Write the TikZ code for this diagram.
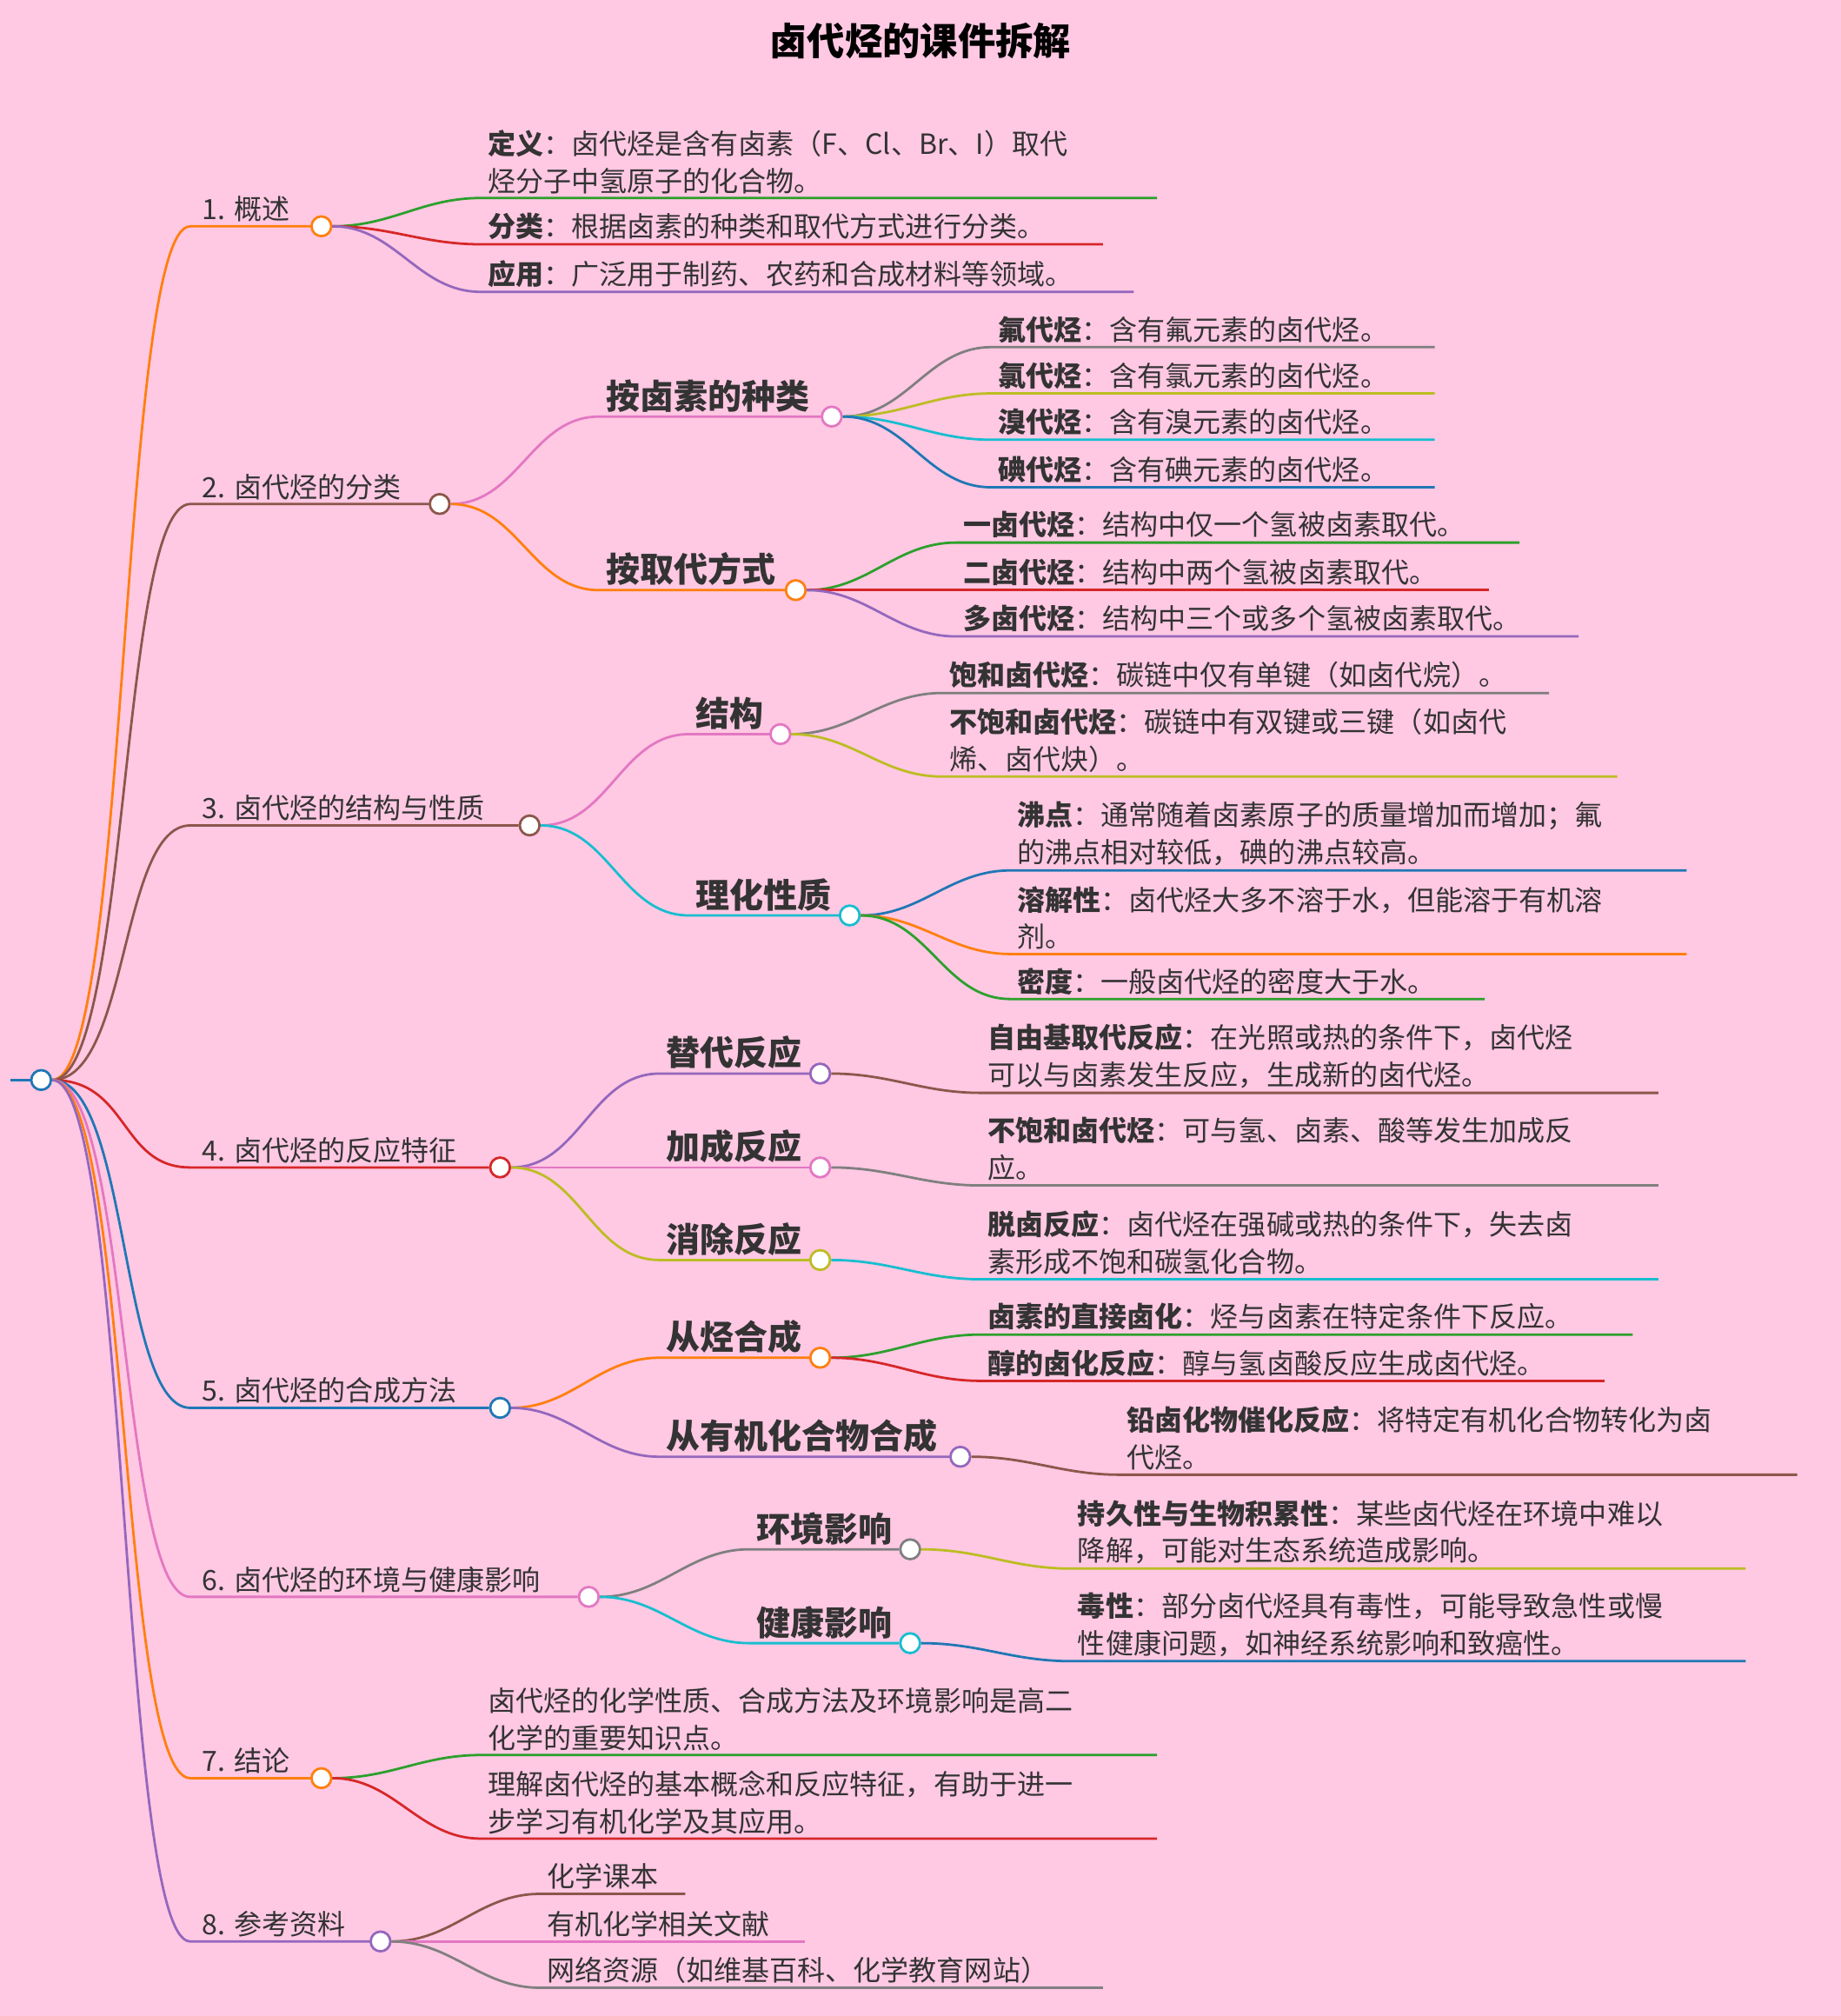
\documentclass[tikz,border=0pt]{standalone}
\usepackage{fontspec}
\setmainfont{Noto Sans CJK SC}
\definecolor{bgpink}{HTML}{FFC8E3}
\definecolor{txt}{HTML}{333333}
\definecolor{corange}{HTML}{FF7F0E}
\definecolor{cbrown}{HTML}{8C564B}
\definecolor{cred}{HTML}{D62728}
\definecolor{cblue}{HTML}{1F77B4}
\definecolor{cpink}{HTML}{E377C2}
\definecolor{cgray}{HTML}{7F7F7F}
\definecolor{colive}{HTML}{BCBD22}
\definecolor{ccyan}{HTML}{17BECF}
\definecolor{cgreen}{HTML}{2CA02C}
\definecolor{cpurple}{HTML}{9467BD}

\tikzset{
  dot/.style={circle,draw,fill=white,line width=1.6pt,minimum size=0.46cm,inner sep=0pt},
  wire/.style={line width=1.6pt},
  lbl/.style={anchor=south west,inner sep=1pt,text=txt,align=left,
    font=\fontsize{18.5}{24.7}\selectfont},
  sub/.style={lbl,font=\fontsize{22.5}{28}\selectfont\bfseries}}

% topic: name, colour, line start y, circle x, label
\newcommand\topic[5]{%
  \coordinate (#1-s) at (148,#3);
  \node[dot,draw=#2] (#1) at (#4,#3) {};
  \draw[wire,#2] (root.east) .. controls +(60,0) and +(-55,0) .. (#1-s) -- (#1.west);
  \node[lbl] (#1-t) at (156,#3-2) {#5};}
% hub: name, colour, parent, line start x, y, circle x, label
\newcommand\hub[7]{%
  \coordinate (#1-s) at (#4,#5);
  \node[dot,draw=#2] (#1) at (#6,#5) {};
  \draw[wire,#2] (#3.east) to[out=0,in=180] (#1-s) -- (#1.west);
  \node[sub] (#1-t) at (#4+4,#5-2) {#7};}
% leaf: name, colour, parent, text x, y, end x, text
\newcommand\leaf[7]{%
  \coordinate (#1-s) at (#4-4,#5);
  \coordinate (#1-e) at (#6,#5);
  \draw[wire,#2] (#3.east) to[out=0,in=180] (#1-s) -- (#1-e);
  \node[lbl] (#1) at (#4,#5-2) {#7};}

\begin{document}
\begin{tikzpicture}[x=0.03cm,y=-0.03cm]
\useasboundingbox (0,0) rectangle (1432,1568);
\fill[bgpink] (0,0) rectangle (1432,1568);
\node[text=black,font=\fontsize{25}{30}\selectfont\bfseries] (title) at (716,32) {卤代烃的课件拆解};

\node[dot,draw=cblue] (root) at (32,840) {};
\coordinate (stub) at (8,840);
\draw[wire,cblue] (stub) -- (root.west);

% level one
\topic{a}{corange}{176}{250}{1. 概述}
\topic{b}{cbrown}{392}{342}{2. 卤代烃的分类}
\topic{c}{cbrown}{642}{412}{3. 卤代烃的结构与性质}
\topic{d}{cred}{908}{389}{4. 卤代烃的反应特征}
\topic{e}{cblue}{1095}{389}{5. 卤代烃的合成方法}
\topic{f}{cpink}{1242}{458}{6. 卤代烃的环境与健康影响}
\topic{g}{corange}{1383}{250}{7. 结论}
\topic{h}{cpurple}{1510}{296}{8. 参考资料}

% 1
\leaf{a1}{cgreen}{a}{378}{154}{900}{{\bfseries 定义}：卤代烃是含有卤素（F、Cl、Br、I）取代\\烃分子中氢原子的化合物。}
\leaf{a2}{cred}{a}{378}{190}{858}{{\bfseries 分类}：根据卤素的种类和取代方式进行分类。}
\leaf{a3}{cpurple}{a}{378}{227}{882}{{\bfseries 应用}：广泛用于制药、农药和合成材料等领域。}

% 2
\hub{b1}{cpink}{b}{466}{324}{647}{按卤素的种类}
\hub{b2}{corange}{b}{466}{459}{619}{按取代方式}
\leaf{b11}{cgray}{b1}{775}{270}{1116}{{\bfseries 氟代烃}：含有氟元素的卤代烃。}
\leaf{b12}{colive}{b1}{775}{306}{1116}{{\bfseries 氯代烃}：含有氯元素的卤代烃。}
\leaf{b13}{ccyan}{b1}{775}{342}{1116}{{\bfseries 溴代烃}：含有溴元素的卤代烃。}
\leaf{b14}{cblue}{b1}{775}{379}{1116}{{\bfseries 碘代烃}：含有碘元素的卤代烃。}
\leaf{b21}{cgreen}{b2}{748}{422}{1182}{{\bfseries 一卤代烃}：结构中仅一个氢被卤素取代。}
\leaf{b22}{cred}{b2}{748}{459}{1158}{{\bfseries 二卤代烃}：结构中两个氢被卤素取代。}
\leaf{b23}{cpurple}{b2}{748}{495}{1228}{{\bfseries 多卤代烃}：结构中三个或多个氢被卤素取代。}

% 3
\hub{c1}{cpink}{c}{536}{571}{607}{结构}
\hub{c2}{ccyan}{c}{536}{712}{661}{理化性质}
\leaf{c11}{cgray}{c1}{737}{539}{1205}{{\bfseries 饱和卤代烃}：碳链中仅有单键（如卤代烷）。}
\leaf{c12}{colive}{c1}{737}{604}{1258}{{\bfseries 不饱和卤代烃}：碳链中有双键或三键（如卤代\\烯、卤代炔）。}
\leaf{c21}{cblue}{c2}{790}{677}{1312}{{\bfseries 沸点}：通常随着卤素原子的质量增加而增加；氟\\的沸点相对较低，碘的沸点较高。}
\leaf{c22}{corange}{c2}{790}{742}{1312}{{\bfseries 溶解性}：卤代烃大多不溶于水，但能溶于有机溶\\剂。}
\leaf{c23}{cgreen}{c2}{790}{777}{1155}{{\bfseries 密度}：一般卤代烃的密度大于水。}

% 4
\hub{d1}{cpurple}{d}{513}{835}{638}{替代反应}
\hub{d2}{cpink}{d}{513}{908}{638}{加成反应}
\hub{d3}{colive}{d}{513}{980}{638}{消除反应}
\leaf{d11}{cbrown}{d1}{767}{850}{1290}{{\bfseries 自由基取代反应}：在光照或热的条件下，卤代烃\\可以与卤素发生反应，生成新的卤代烃。}
\leaf{d21}{cgray}{d2}{767}{922}{1290}{{\bfseries 不饱和卤代烃}：可与氢、卤素、酸等发生加成反\\应。}
\leaf{d31}{ccyan}{d3}{767}{995}{1290}{{\bfseries 脱卤反应}：卤代烃在强碱或热的条件下，失去卤\\素形成不饱和碳氢化合物。}

% 5
\hub{e1}{corange}{e}{513}{1056}{638}{从烃合成}
\hub{e2}{cpurple}{e}{513}{1133}{747}{从有机化合物合成}
\leaf{e11}{cgreen}{e1}{767}{1038}{1270}{{\bfseries 卤素的直接卤化}：烃与卤素在特定条件下反应。}
\leaf{e12}{cred}{e1}{767}{1074}{1248}{{\bfseries 醇的卤化反应}：醇与氢卤酸反应生成卤代烃。}
\leaf{e21}{cbrown}{e2}{875}{1147}{1398}{{\bfseries 铅卤化物催化反应}：将特定有机化合物转化为卤\\代烃。}

% 6
\hub{f1}{cgray}{f}{583}{1205}{708}{环境影响}
\hub{f2}{ccyan}{f}{583}{1278}{708}{健康影响}
\leaf{f11}{colive}{f1}{837}{1220}{1358}{{\bfseries 持久性与生物积累性}：某些卤代烃在环境中难以\\降解，可能对生态系统造成影响。}
\leaf{f21}{cblue}{f2}{837}{1292}{1358}{{\bfseries 毒性}：部分卤代烃具有毒性，可能导致急性或慢\\性健康问题，如神经系统影响和致癌性。}

% 7
\leaf{g1}{cgreen}{g}{378}{1365}{900}{卤代烃的化学性质、合成方法及环境影响是高二\\化学的重要知识点。}
\leaf{g2}{cred}{g}{378}{1430}{900}{理解卤代烃的基本概念和反应特征，有助于进一\\步学习有机化学及其应用。}

% 8
\leaf{h1}{cbrown}{h}{424}{1473}{533}{化学课本}
\leaf{h2}{cpink}{h}{424}{1510}{626}{有机化学相关文献}
\leaf{h3}{cgray}{h}{424}{1546}{858}{网络资源（如维基百科、化学教育网站）}
\end{tikzpicture}
\end{document}
